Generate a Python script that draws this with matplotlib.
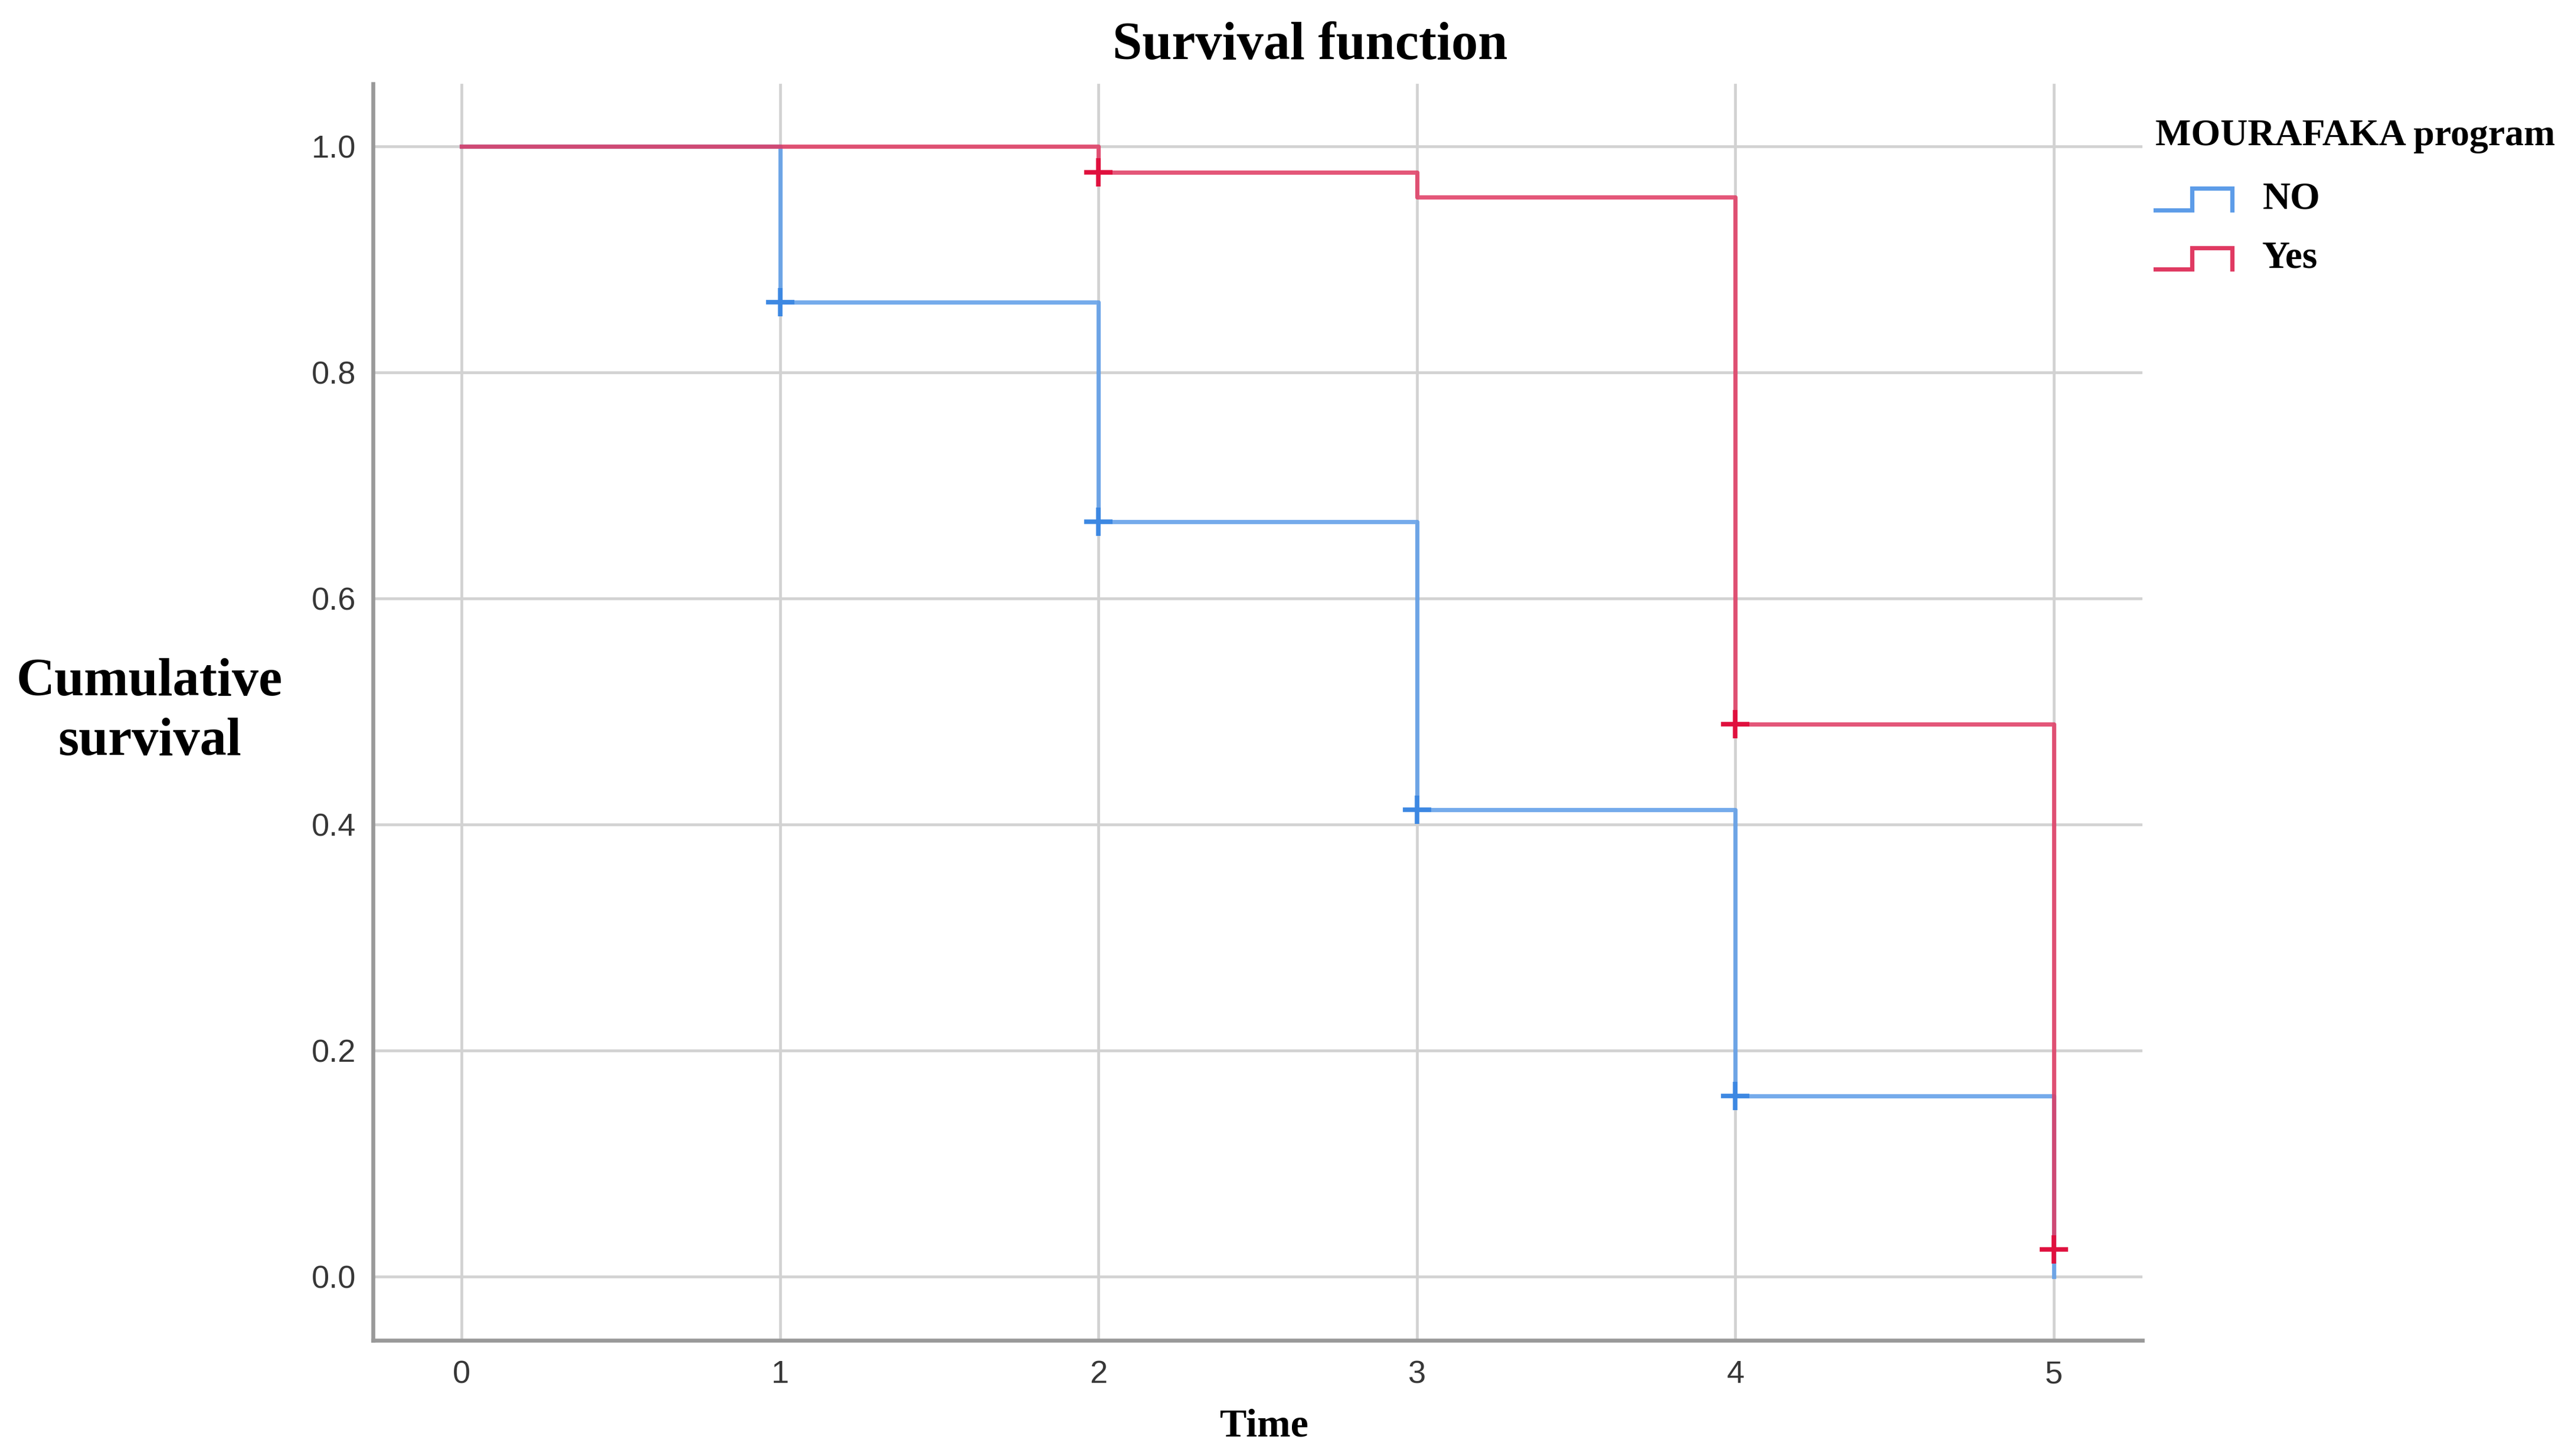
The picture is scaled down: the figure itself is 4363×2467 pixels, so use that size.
import numpy as np
import matplotlib
matplotlib.use("Agg")
import matplotlib.pyplot as plt
from matplotlib.lines import Line2D
from matplotlib.legend_handler import HandlerBase

# Kaplan-Meier estimates
times = [0, 1, 2, 3, 4, 5]
surv_no = [1.0, 0.862, 0.668, 0.413, 0.160, 0.0]
surv_yes = [1.0, 1.0, 0.977, 0.955, 0.489, 0.024]
censor_no = [1, 2, 3, 4]
censor_yes = [2, 4, 5]
groups = ["NO", "Yes"]
yticks = [0.0, 0.2, 0.4, 0.6, 0.8, 1.0]

line_cols = {"NO": "#5d9ce8", "Yes": "#e03a62"}
mark_cols = {"NO": "#3d88e2", "Yes": "#e0103e"}

SERIF = ["Liberation Serif", "DejaVu Serif"]
SANS = ["Liberation Sans", "DejaVu Sans"]


class StepHandler(HandlerBase):
    # legend key drawn as a little step, like SPSS does
    def create_artists(self, legend, orig_handle, xdescent, ydescent,
                       width, height, fontsize, trans):
        xs = np.array([0, 0.48, 0.48, 1, 1]) * width - xdescent
        ys = np.array([-0.05, -0.05, 0.75, 0.75, -0.05]) * height - ydescent
        ln = Line2D(xs, ys, color=orig_handle.get_color(),
                    lw=orig_handle.get_linewidth(), solid_joinstyle="miter")
        ln.set_transform(trans)
        return [ln]


fig = plt.figure(figsize=(43.63, 24.67), dpi=100)
ax = fig.add_axes([0.1449, 0.0794, 0.6871, 0.863])

handles = []
for g, surv, cens in [("NO", surv_no, censor_no), ("Yes", surv_yes, censor_yes)]:
    ln, = ax.step(times, surv, where="post", color=line_cols[g], lw=5.2,
                  alpha=0.85, zorder=3, label=g)
    cy = [surv[times.index(t)] for t in cens]
    ax.plot(cens, cy, ls="none", marker="+", ms=34, mew=5.5,
            color=mark_cols[g], zorder=4)
    handles.append(ln)

ax.set_xlim(-0.278, 5.278)
ax.set_ylim(-0.0564, 1.0554)
ax.set_xticks(times)
ax.set_yticks(yticks)
ax.set_yticklabels(["%.1f" % v for v in yticks])
ax.grid(True, color="#d2d2d2", lw=3.4, zorder=1)
ax.set_axisbelow(True)

for s in ["top", "right"]:
    ax.spines[s].set_visible(False)
for s in ["left", "bottom"]:
    ax.spines[s].set_color("#999999")
    ax.spines[s].set_linewidth(4.8)

ax.tick_params(axis="both", length=0, labelsize=39, labelcolor="#363636")
ax.tick_params(axis="y", pad=21)
ax.tick_params(axis="x", pad=24)
for lab in ax.get_xticklabels() + ax.get_yticklabels():
    lab.set_family(SANS)

ax.set_xlabel("Time", family=SERIF, fontsize=49, fontweight="bold", va="center")
ax.xaxis.set_label_coords(0.5037, -0.0686)
ax.set_ylabel("Cumulative\nsurvival", family=SERIF, fontsize=65,
              fontweight="bold", rotation=0, ha="center", va="center",
              multialignment="center", linespacing=1.3)
ax.yaxis.set_label_coords(-0.1264, 0.500)

fig.text(0.5088, 0.9685, "Survival function", family=SERIF, fontsize=65,
         fontweight="bold", ha="center", va="center")

leg = ax.legend(handles, groups, handler_map={Line2D: StepHandler()},
                title="MOURAFAKA program", loc="upper left",
                bbox_to_anchor=(0.837, 0.918), bbox_transform=fig.transFigure,
                frameon=False, borderpad=0, borderaxespad=0,
                handlelength=2.0, handletextpad=0.78, labelspacing=0.62,
                alignment="left",
                prop={"family": SERIF, "size": 47, "weight": "bold"},
                title_fontproperties={"family": SERIF, "size": 46, "weight": "bold"})
leg._legend_box.sep = 0.4 * 65 + 8

fig.savefig("out.png", dpi=100, facecolor="white")
